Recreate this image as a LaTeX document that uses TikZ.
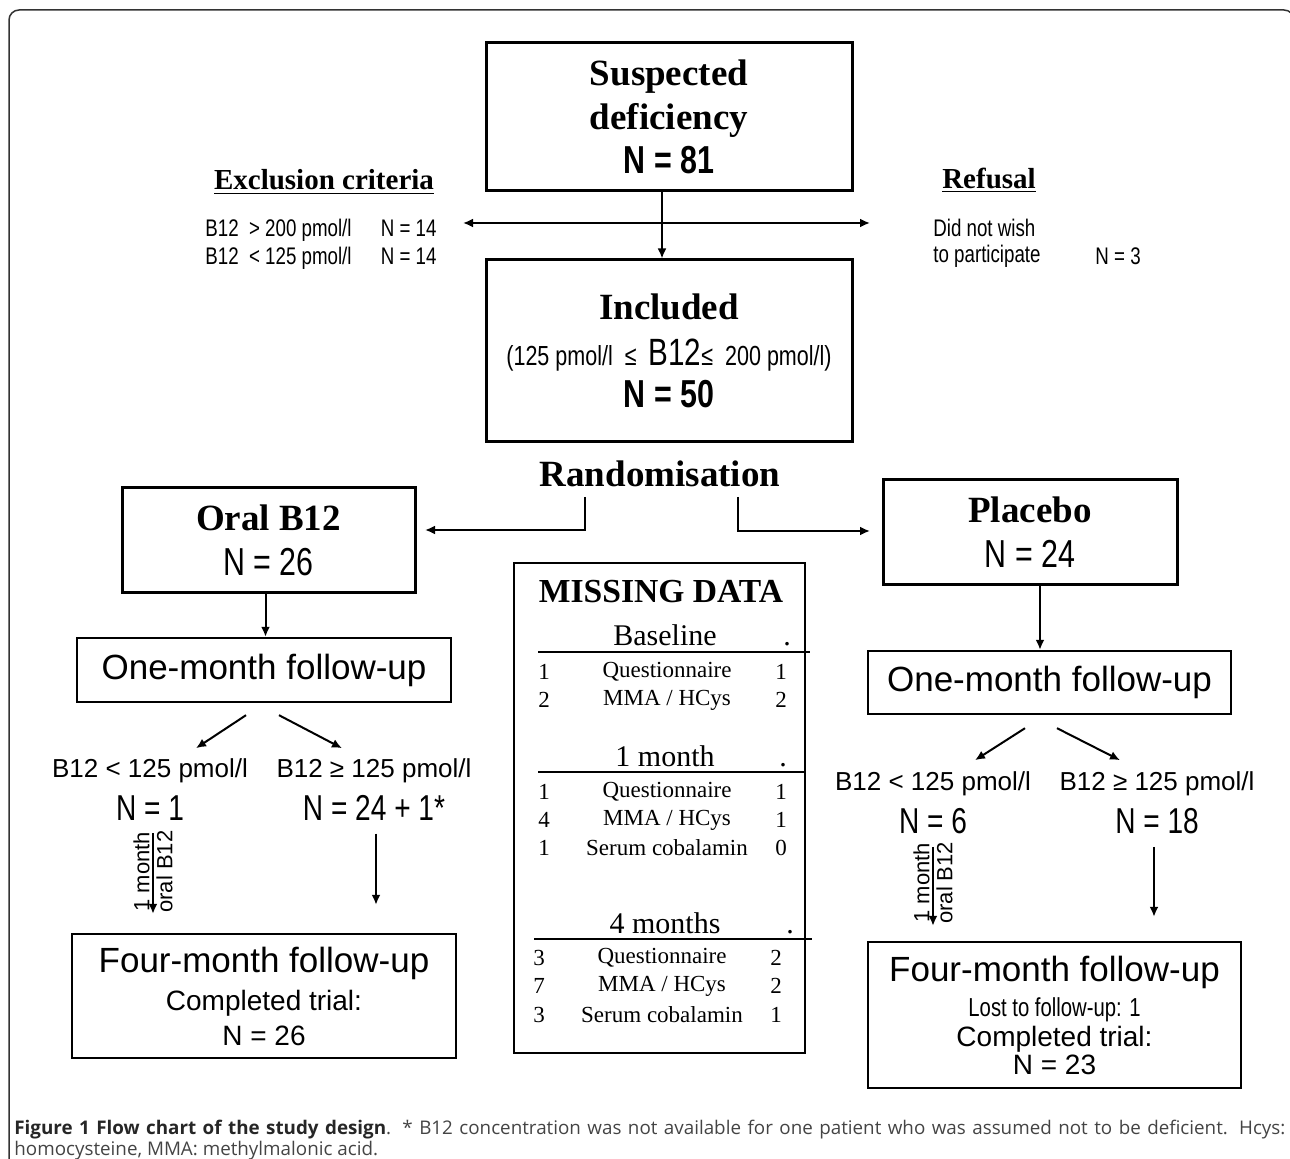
\documentclass[tikz,border=0pt]{standalone}
\usepackage{fontspec}
\setmainfont{Liberation Serif}
\setsansfont{Liberation Sans}
\newfontfamily\narrowsf[FakeStretch=0.78]{Liberation Sans}
\newfontfamily\capfont{Open Sans}
\usetikzlibrary{arrows.meta}
\newcommand\fs[2]{\fontsize{#1}{#2}\selectfont}

\begin{document}
\begin{tikzpicture}[x=0.5pt, y=-0.5pt,
	box/.style={draw, line width=1.5pt, align=center, inner sep=0pt},
	midbox/.style={draw, line width=1.2pt, align=center, inner sep=0pt},
	arr/.style={line width=1pt, -{Latex[length=5pt,width=4.5pt]}},
	hd/.style={font=\fs{18.5}{22}\bfseries},
	sub/.style={font=\fs{14.5}{17}\bfseries},
	cond/.style={font=\narrowsf\fs{12}{14}, anchor=west, inner sep=0pt},
	big/.style={font=\narrowsf\fs{18}{21}},
	lvl/.style={font=\sffamily\fs{13}{15}},
	side/.style={font=\sffamily\fs{11}{13}, rotate=90, inner sep=1.2pt},
	mhd/.style={font=\fs{15}{17}, anchor=base},
	mrow/.style={font=\fs{11.5}{13}}]
	\definecolor{cFrame}{HTML}{333333}
	\definecolor{cCaption}{HTML}{444444}

	\useasboundingbox (0,0) rectangle (1290,1159);
	\draw[cFrame, line width=0.75pt, rounded corners=5pt] (9,10) rectangle (1294,1190);

	% screening
	\node[box, minimum width=183pt, minimum height=74pt, font=\fs{18.5}{22}\bfseries] (susp) at (669,117)
		{Suspected\\deficiency\\{\narrowsf\fs{19.5}{22}N = 81}};
	\node[sub] (excl) at (324,182) {\underline{Exclusion criteria}};
	\node[cond] (exa) at (205,230) {B12 \ > 200 pmol/l \quad N = 14};
	\node[cond] (exb) at (205,258) {B12 \ < 125 pmol/l \quad N = 14};
	\node[sub] (refu) at (989,180) {\underline{Refusal}};
	\node[cond] (rfa) at (933,228) {Did not wish};
	\node[cond] (rfb) at (933,256) {to participate};
	\node[cond] (rfn) at (1095,256) {N = 3};
	\coordinate (exl) at (463,223);
	\coordinate (exr) at (870,223);
	\draw[line width=1pt, {Latex[length=5pt,width=4.5pt]}-{Latex[length=5pt,width=4.5pt]}] (exl) -- (exr);

	\node[box, minimum width=183pt, minimum height=91pt, font=\fs{18.5}{22}\bfseries] (incl) at (669,351)
		{Included\\[1pt]
		{\mdseries\narrowsf\fs{13.8}{15}(125 pmol/l \ ≤ \ {\fs{19}{20}B12}≤ \ 200 pmol/l)}\\[-1pt]
		{\narrowsf\fs{19.5}{22}N = 50}};
	\draw[arr] ([xshift=-3.5pt]susp.south) -- ([xshift=-3.5pt]incl.north);

	% randomisation
	\node[hd] (rand) at (660,474) {Randomisation};
	\node[box, minimum width=146.5pt, minimum height=52.5pt, font=\fs{18.5}{22.5}\bfseries] (oral) at (268.5,540.5)
		{Oral B12\\{\mdseries\narrowsf\fs{19.5}{22}N = 26}};
	\node[box, minimum width=147pt, minimum height=52.5pt, font=\fs{18.5}{22.5}\bfseries] (plac) at (1030,532.5)
		{Placebo\\{\mdseries\narrowsf\fs{19.5}{22}N = 24}};
	\coordinate (rl) at (585,497);
	\coordinate (ra) at (425,530);
	\coordinate (rr) at (738,497);
	\coordinate (rb) at (870,531);
	\draw[arr] (rl) |- (ra);
	\draw[arr] (rr) |- (rb);

	% oral arm
	\node[midbox, minimum width=187pt, minimum height=32pt, font=\sffamily\fs{17.5}{20}] (om1) at (264,670) {One-month follow-up};
	\draw[arr] ([xshift=-1.5pt]oral.south) -- ([xshift=-1.5pt]oral.south |- om1.north);
	\node[lvl] (lo1) at (150,771) {B12 < 125 pmol/l};
	\node[big] (lo1n) at (150,808) {N = 1};
	\node[lvl] (lo2) at (374,771) {B12 ≥ 125 pmol/l};
	\node[big] (lo2n) at (374,808) {N = 24 + 1*};
	\draw[arr] (om1.south) ++(-18,12) -- ++(-50,33);
	\draw[arr] (om1.south) ++(15,12) -- ++(63,33);
	\node[midbox, minimum width=192pt, minimum height=62pt, font=\sffamily\fs{17.5}{17.5}] (fm1) at (264,996)
		{Four-month follow-up\\[1.5pt]
		{\fs{14}{17}Completed trial:}\\{\fs{14}{17}N = 26}};
	\draw[arr, shorten <=3pt, shorten >=9.5pt] ([xshift=1.5pt]lo1n.south) -- ([xshift=1.5pt]lo1n.south |- fm1.north)
		node[side, pos=0.42, above] (lm1) {1 month}
		node[side, pos=0.42, below] (lb1) {oral B12};
	\draw[arr, shorten <=3pt, shorten >=14pt] ([xshift=1pt]lo2n.south) -- ([xshift=1pt]lo2n.south |- fm1.north);

	% placebo arm
	\node[midbox, minimum width=181.5pt, minimum height=31.5pt, font=\sffamily\fs{17.5}{20}] (om2) at (1049.5,682.5) {One-month follow-up};
	\draw[arr] ([xshift=5pt]plac.south) -- ([xshift=5pt]plac.south |- om2.north);
	\node[lvl] (ro1) at (933,784) {B12 < 125 pmol/l};
	\node[big] (ro1n) at (933,821) {N = 6};
	\node[lvl] (ro2) at (1157,784) {B12 ≥ 125 pmol/l};
	\node[big] (ro2n) at (1157,821) {N = 18};
	\draw[arr] (om2.south) ++(-24.5,13) -- ++(-50,32);
	\draw[arr] (om2.south) ++(7.5,13) -- ++(63,32);
	\node[midbox, minimum width=186.5pt, minimum height=73pt, font=\sffamily\fs{17.5}{15}] (fm2) at (1054.5,1015)
		{Four-month follow-up\\[2.5pt]
		{\narrowsf\fs{13}{15}Lost to follow-up: 1}\\
		{\fs{14}{15}Completed trial:}\\[-1pt]{\fs{14}{15}N = 23}};
	\draw[arr, shorten <=3pt, shorten >=7.5pt] (ro1n.south) -- (ro1n.south |- fm2.north)
		node[side, pos=0.42, above] (rm1) {1 month}
		node[side, pos=0.42, below] (rb1) {oral B12};
	\draw[arr, shorten <=3pt, shorten >=12pt] ([xshift=-1.5pt]ro2n.south) -- ([xshift=-1.5pt]ro2n.south |- fm2.north);

	% missing data table
	\node[draw, line width=0.75pt, minimum width=145.5pt, minimum height=245pt] (miss) at (659.5,808) {};
	\node[font=\fs{16.8}{19}\bfseries] (mtit) at (661,592) {MISSING DATA};
	\node[mhd] (mbl) at (665,646) {Baseline};
	\node[mhd] (mbld) at (787,646) {.};
	\draw[line width=0.75pt] (538,652) -- (810,652);
	\node[mhd] (m1m) at (665,766) {1 month};
	\node[mhd] (m1md) at (783,766) {.};
	\draw[line width=0.75pt] (538,772) -- (806,772);
	\node[mhd] (m4m) at (665,933) {4 months};
	\node[mhd] (m4md) at (790,933) {.};
	\draw[line width=0.75pt] (534,939) -- (812,939);
	\foreach \y/\a/\t/\b in {672/1/Questionnaire/1, 700/2/{MMA / HCys}/2,
		792/1/Questionnaire/1, 820/4/{MMA / HCys}/1, 848/1/{Serum cobalamin}/0} {
		\node[mrow] (ml\y) at (544,\y) {\a};
		\node[mrow] (mt\y) at (667,\y) {\t};
		\node[mrow] (mr\y) at (781,\y) {\b};
	}
	\foreach \y/\a/\t/\b in {958/3/Questionnaire/2, 986/7/{MMA / HCys}/2, 1015/3/{Serum cobalamin}/1} {
		\node[mrow] (ml\y) at (539,\y) {\a};
		\node[mrow] (mt\y) at (662,\y) {\t};
		\node[mrow] (mr\y) at (776,\y) {\b};
	}

	% caption
	\node[anchor=north west, inner sep=0pt, text width=635.5pt, align=justify, text=cCaption,
		font=\capfont\fs{9.4}{10.5}] (capt) at (14,1120)
		{{\bfseries\color{black!85}Figure 1 Flow chart of the study design}. * B12 concentration was not available for one patient who was assumed not to be deficient. Hcys:\linebreak homocysteine, MMA: methylmalonic acid.};
\end{tikzpicture}
\end{document}
